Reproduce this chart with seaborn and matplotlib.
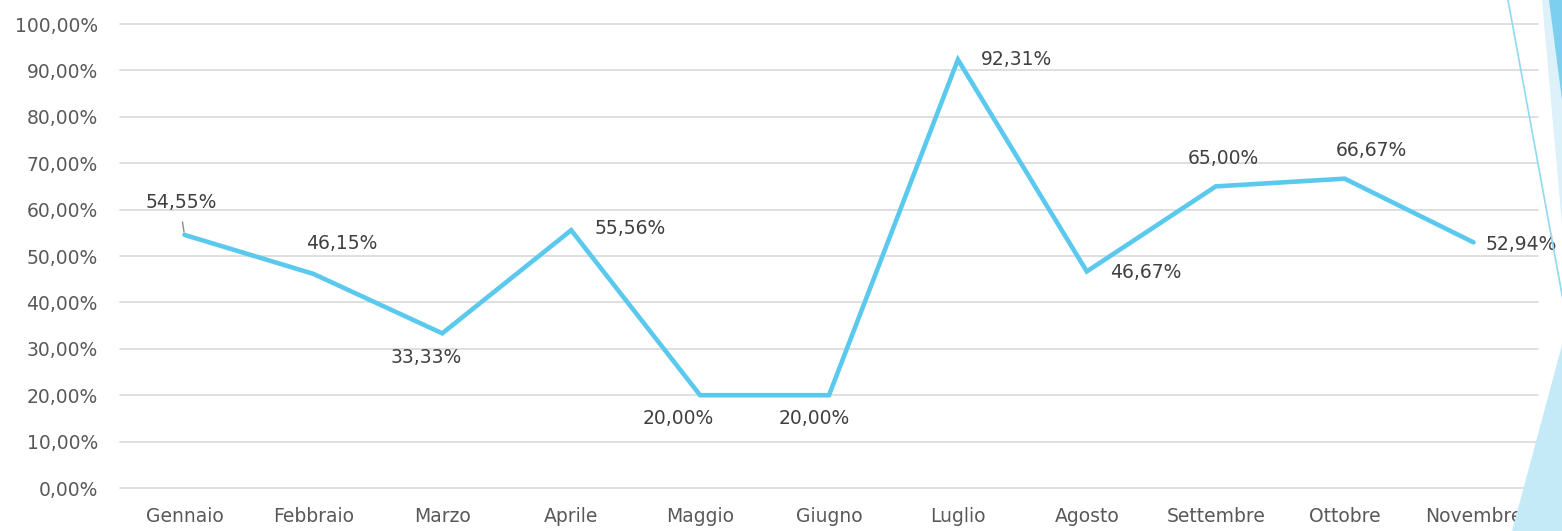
import matplotlib
matplotlib.use("Agg")
import matplotlib.pyplot as plt
from matplotlib.patches import Polygon
from matplotlib.lines import Line2D
import seaborn as sns
import pandas as pd

months = ["Gennaio", "Febbraio", "Marzo", "Aprile", "Maggio", "Giugno",
          "Luglio", "Agosto", "Settembre", "Ottobre", "Novembre"]
values = [54.55, 46.15, 33.33, 55.56, 20.00, 20.00, 92.31, 46.67, 65.00, 66.67, 52.94]
yticks = [0, 10, 20, 30, 40, 50, 60, 70, 80, 90, 100]

# label offsets (pixels, relative to point)
label_offsets = [(-3, 32), (28, 30), (-16, -24), (59, 2), (-22, -23), (-15, -23),
                 (59, 0), (59, -1), (8, 28), (27, 28), (48, -2)]

sns.set_theme(style="white")
plt.rcParams['font.family'] = ['DejaVu Sans']

df = pd.DataFrame({"month": months, "value": values})

fig = plt.figure(figsize=(15.62, 5.31), dpi=100)
ax = fig.add_axes([120/1562, 1-488/531, (1538-120)/1562, (488-24)/531])

sns.lineplot(data=df, x="month", y="value", ax=ax, color="#5BC9EE", linewidth=3.3,
             sort=False, solid_joinstyle="miter")

ax.set_xlim(-0.5, len(months) - 0.5)
ax.set_ylim(0, 100)
ax.set_yticks(yticks)
ax.set_yticklabels([f"{v:.2f}".replace(".", ",") + "%" for v in yticks])
ax.set_xlabel("")
ax.set_ylabel("")
for v in yticks:
    ax.axhline(v, color="#d9d9d9", linewidth=1.2, zorder=0, clip_on=False)
for s in ax.spines.values():
    s.set_visible(False)
ax.tick_params(axis="both", length=0, labelsize=13.5, colors="#595959")
ax.tick_params(axis="y", pad=16)
ax.tick_params(axis="x", pad=14)

px2pt = 72 / 100
for i, (v, (dx, dy)) in enumerate(zip(values, label_offsets)):
    lbl = f"{v:.2f}".replace(".", ",") + "%"
    ax.annotate(lbl, (i, v), xytext=(dx * px2pt, dy * px2pt), textcoords="offset points",
                ha="center", va="center", fontsize=13.5, color="#404040")

# leader line for first label
ax.annotate("", (0, values[0]), xytext=(-2 * px2pt, 13 * px2pt), textcoords="offset points",
            arrowprops=dict(arrowstyle="-", color="#8c8c8c", lw=1.0, shrinkA=0, shrinkB=2))

# decorative shapes on the right (figure pixel coords)
W, H = 1562, 531
def fp(pts):
    return [(x / W, 1 - y / H) for x, y in pts]

fig.patches.append(Polygon(fp([(1542, 0), (1562, 0), (1562, 225)]), closed=True,
                           transform=fig.transFigure, facecolor="#dcf1fa", edgecolor="none"))
fig.patches.append(Polygon(fp([(1549, 0), (1562, 0), (1562, 100)]), closed=True,
                           transform=fig.transFigure, facecolor="#7ccfee", edgecolor="none"))
fig.patches.append(Polygon(fp([(1562, 345), (1562, 531), (1512, 531)]), closed=True,
                           transform=fig.transFigure, facecolor="#c4e9f7", edgecolor="none"))
fig.lines.append(Line2D([1508 / W, 1563 / W], [1, 1 - 300 / H], transform=fig.transFigure,
                        color="#8fd9f2", linewidth=1.2))

fig.savefig("out.png", dpi=100)
